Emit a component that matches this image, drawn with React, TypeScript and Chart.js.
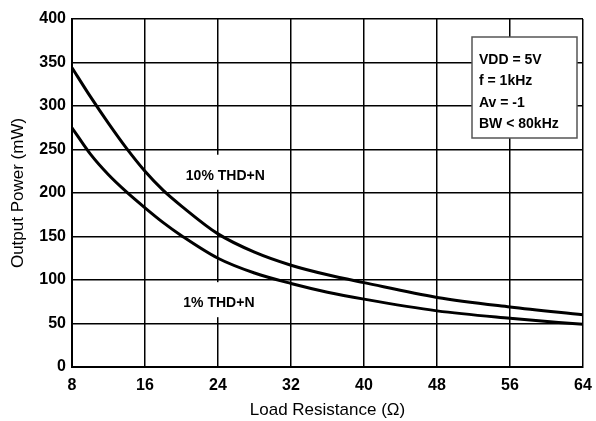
import React, { useEffect, useRef } from "react";
import { Chart, registerables } from "chart.js";

Chart.register(...registerables);

const resistance = [8, 10, 12, 14, 16, 18, 20, 24, 28, 32, 36, 40, 48, 56, 64];
const thd10 = [344, 311, 280, 251, 225, 203, 185, 153, 132, 117, 106, 97, 80, 69, 60];
const thd1 = [275, 245, 221, 201, 183, 166, 151, 125, 108, 96, 86, 78, 64.5, 56, 49];
const xTicks = [8, 16, 24, 32, 40, 48, 56, 64];
const yTicks = [0, 50, 100, 150, 200, 250, 300, 350, 400];
const legendLines = ["VDD = 5V", "f = 1kHz", "Av = -1", "BW < 80kHz"];
const curveLabels = [
  { text: "10% THD+N", x: 24.8, y: 221 },
  { text: "1% THD+N", x: 24.1, y: 74.5 },
];

const FONT = "'Liberation Sans', Arial, sans-serif";

const annotate = {
  id: "annotate",
  afterDatasetsDraw(chart: any) {
    const ctx = chart.ctx;
    const xs = chart.scales.x;
    const ys = chart.scales.y;
    const area = chart.chartArea;
    ctx.save();
    ctx.font = `bold 14px ${FONT}`;
    ctx.textBaseline = "middle";
    for (const l of curveLabels) {
      const px = xs.getPixelForValue(l.x);
      const py = ys.getPixelForValue(l.y);
      const w = ctx.measureText(l.text).width;
      ctx.fillStyle = "#fff";
      ctx.fillRect(px - w / 2 - 6, py - 20, w + 12, 35);
      ctx.fillStyle = "#000";
      ctx.textAlign = "center";
      ctx.fillText(l.text, px, py + 1);
    }
    // legend box
    const bx = area.right - 111;
    const by = area.top + 18;
    const bw = 105;
    const bh = 101;
    ctx.fillStyle = "#fff";
    ctx.fillRect(bx, by, bw, bh);
    ctx.strokeStyle = "#555";
    ctx.lineWidth = 1.5;
    ctx.strokeRect(bx, by, bw, bh);
    ctx.fillStyle = "#000";
    ctx.textAlign = "left";
    legendLines.forEach((t, i) => {
      ctx.fillText(t, bx + 7, by + 23 + i * 21.5);
    });
    ctx.restore();
  },
};

export default function App() {
  const ref = useRef<HTMLCanvasElement>(null);
  useEffect(() => {
    document.body.style.margin = "0";
    const chart = new Chart(ref.current!, {
      type: "line",
      data: {
        datasets: [
          {
            label: "10% THD+N",
            data: resistance.map((r, i) => ({ x: r, y: thd10[i] })),
            borderColor: "#000",
            borderWidth: 3,
            pointRadius: 0,
            cubicInterpolationMode: "monotone",
            fill: false,
          },
          {
            label: "1% THD+N",
            data: resistance.map((r, i) => ({ x: r, y: thd1[i] })),
            borderColor: "#000",
            borderWidth: 3,
            pointRadius: 0,
            cubicInterpolationMode: "monotone",
            fill: false,
          },
        ],
      },
      options: {
        responsive: false,
        animation: false,
        layout: { padding: { left: 0, right: 13, top: 19, bottom: 0 } },
        plugins: { legend: { display: false }, tooltip: { enabled: false } },
        scales: {
          x: {
            type: "linear",
            min: 8,
            max: 64,
            afterBuildTicks: (s: any) => {
              s.ticks = xTicks.map((v) => ({ value: v }));
            },
            afterFit: (s: any) => {
              s.height = 54;
              s.paddingRight = 0;
              s.paddingLeft = 0;
            },
            grid: { color: "#000", lineWidth: 1.5, drawTicks: false },
            border: { color: "#000", width: 2 },
            ticks: {
              color: "#000",
              padding: 9,
              maxRotation: 0,
              font: { family: FONT, size: 16, weight: "bold" },
            },
            title: {
              display: true,
              text: "Load Resistance (Ω)",
              color: "#000",
              font: { family: FONT, size: 17 },
              padding: { top: 0, bottom: 0 },
            },
          },
          y: {
            type: "linear",
            min: 0,
            max: 400,
            afterBuildTicks: (s: any) => {
              s.ticks = yTicks.map((v) => ({ value: v }));
            },
            afterFit: (s: any) => {
              s.width = 72;
            },
            grid: { color: "#000", lineWidth: 1.5, drawTicks: false },
            border: { color: "#000", width: 2 },
            ticks: {
              color: "#000",
              padding: 6,
              font: { family: FONT, size: 16, weight: "bold" },
            },
            title: {
              display: true,
              text: "Output Power (mW)",
              color: "#000",
              font: { family: FONT, size: 17 },
              padding: { top: 8, bottom: 0 },
            },
          },
        },
      },
      plugins: [annotate],
    });
    return () => chart.destroy();
  }, []);
  return (
    <div style={{ width: 596, height: 421 }}>
      <canvas ref={ref} width={596} height={421} style={{ display: "block" }} />
    </div>
  );
}
